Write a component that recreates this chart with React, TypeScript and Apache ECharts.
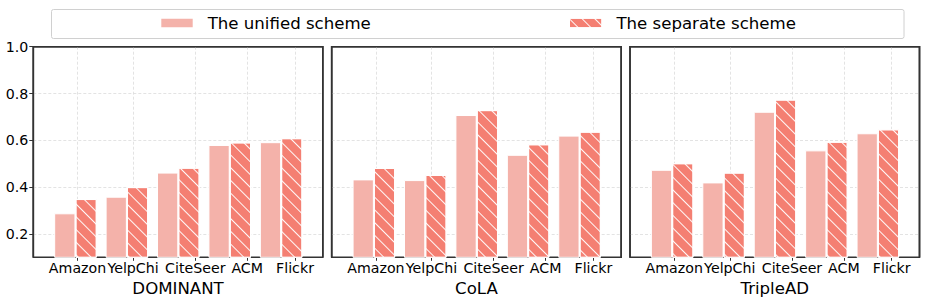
import React, { useEffect, useRef } from "react";
import * as echarts from "echarts";

const datasets = ["Amazon", "YelpChi", "CiteSeer", "ACM", "Flickr"];
const models = ["DOMINANT", "CoLA", "TripleAD"];
const seriesNames = ["The unified scheme", "The separate scheme"];

const unifiedDOMINANT = [0.288, 0.359, 0.462, 0.58, 0.592];
const separateDOMINANT = [0.349, 0.4, 0.483, 0.591, 0.609];
const unifiedCoLA = [0.433, 0.43, 0.708, 0.538, 0.62];
const separateCoLA = [0.482, 0.452, 0.729, 0.583, 0.637];
const unifiedTripleAD = [0.474, 0.42, 0.722, 0.557, 0.63];
const separateTripleAD = [0.502, 0.462, 0.774, 0.594, 0.647];

const yTicks = [0.2, 0.4, 0.6, 0.8, 1.0];
const xTickPositions = [0.04, 1.12, 2.33, 3.34, 4.27];

const unifiedAll = [unifiedDOMINANT, unifiedCoLA, unifiedTripleAD];
const separateAll = [separateDOMINANT, separateCoLA, separateTripleAD];

const FONT = "DejaVu Sans";
const UNIFIED_COLOR = "#F4B2AA";
const SEPARATE_COLOR = "#F47F72";
const GRID_LEFTS = [33.3, 331.7, 630];
const GRID_W = 289.5;
const GRID_TOP = 46.7;
const GRID_H = 210.6;

const hatch = {
  symbol: "rect",
  symbolSize: 1,
  color: "rgba(255,255,255,0.95)",
  dashArrayX: [1, 0],
  dashArrayY: [1, 7.2],
  rotation: Math.PI / 4,
};

function labelFor(v: number) {
  let best = 0;
  let bd = Infinity;
  xTickPositions.forEach((p, i) => {
    const d = Math.abs(p - v);
    if (d < bd) {
      bd = d;
      best = i;
    }
  });
  return datasets[best];
}

export default function App() {
  const ref = useRef<HTMLDivElement>(null);

  useEffect(() => {
    document.body.style.margin = "0";
    if (!ref.current) return;
    const chart = echarts.init(ref.current, null, { renderer: "svg" });

    const splitStyle = { color: "#dcdcdc", type: [3, 2] as any, width: 0.8 };

    const grids = models.map((_, p) => ({
      left: GRID_LEFTS[p],
      top: GRID_TOP,
      width: GRID_W,
      height: GRID_H,
      show: true,
      borderColor: "#333",
      borderWidth: 1.6,
      backgroundColor: "transparent",
      containLabel: false,
      outerBoundsMode: "none",
    }));

    const xAxes = models.map((m, p) => ({
      type: "value",
      gridIndex: p,
      min: -0.82,
      max: 4.81,
      axisLine: { show: false, onZero: false },
      axisTick: {
        show: true,
        customValues: xTickPositions,
        length: 3.5,
        lineStyle: { color: "#333", width: 1 },
      },
      axisLabel: {
        show: true,
        customValues: xTickPositions,
        formatter: (v: number) => labelFor(v),
        margin: 4,
        fontSize: 14.2,
        fontFamily: FONT,
        color: "#000",
      },
      splitLine: { show: true, lineStyle: splitStyle },
      name: m,
      nameLocation: "middle",
      nameGap: 19.5,
      nameTextStyle: { fontSize: 16.6, color: "#000", fontFamily: FONT },
    }));

    const yAxes = models.map((_, p) => ({
      type: "value",
      gridIndex: p,
      min: 0.1,
      max: 1.0,
      axisLine: { show: false, onZero: false },
      axisTick: {
        show: p === 0,
        customValues: yTicks,
        length: 4,
        lineStyle: { color: "#333", width: 1 },
      },
      axisLabel: {
        show: p === 0,
        customValues: yTicks,
        formatter: (v: number) => v.toFixed(1),
        margin: 5,
        fontSize: 14.2,
        fontFamily: FONT,
        color: "#000",
      },
      splitLine: { show: true, lineStyle: splitStyle },
    }));

    const series: any[] = [];
    models.forEach((_, p) => {
      series.push({
        type: "bar",
        name: seriesNames[0],
        xAxisIndex: p,
        yAxisIndex: p,
        data: unifiedAll[p].map((v, i) => [i, v]),
        barWidth: "41.4%",
        barGap: "0%",
        itemStyle: { color: UNIFIED_COLOR, borderColor: "#fff", borderWidth: 1 },
      });
      series.push({
        type: "bar",
        name: seriesNames[1],
        xAxisIndex: p,
        yAxisIndex: p,
        data: separateAll[p].map((v, i) => [i, v]),
        barWidth: "41.4%",
        barGap: "0%",
        itemStyle: {
          color: SEPARATE_COLOR,
          borderColor: "#fff",
          borderWidth: 1,
          decal: hatch,
        },
      });
    });

    const legendCommon = {
      padding: 0,
      top: 14.5,
      itemWidth: 33.4,
      itemHeight: 10.7,
      icon: "rect",
      selectedMode: false,
      textStyle: {
        fontSize: 16.6,
        color: "#000",
        fontFamily: FONT,
        padding: [0, 0, 0, 9],
      },
    };

    const frames = GRID_LEFTS.map((l) => ({
      type: "polyline",
      shape: {
        points: [
          [l, GRID_TOP + GRID_H],
          [l, GRID_TOP],
          [l + GRID_W, GRID_TOP],
          [l + GRID_W, GRID_TOP + GRID_H],
        ],
      },
      style: { stroke: "#333", lineWidth: 1.6, fill: "none" },
      z: 10,
    }));

    chart.setOption({
      animation: false,
      grid: grids,
      xAxis: xAxes,
      yAxis: yAxes,
      series,
      legend: [
        { ...legendCommon, data: [seriesNames[0]], left: 159.3 },
        { ...legendCommon, data: [seriesNames[1]], left: 568 },
      ],
      graphic: [
        {
          type: "rect",
          shape: { x: 51.5, y: 9.5, width: 852.5, height: 29, r: 2 },
          style: { fill: "#fff", stroke: "#d0d0d0", lineWidth: 1 },
          z: -1,
        },
        ...frames,
      ],
    } as any);

    return () => chart.dispose();
  }, []);

  return <div ref={ref} style={{ width: 926, height: 301 }} />;
}
